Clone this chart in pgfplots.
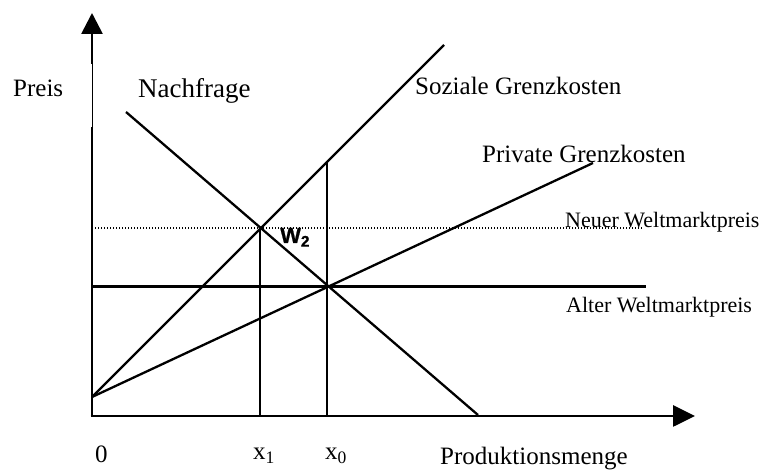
\documentclass[border=0pt]{standalone}
\usepackage{pgfplots}
\pgfplotsset{compat=1.18}
\usepackage{fontspec}
\setmainfont{Liberation Serif}
\newfontfamily\sansb{Liberation Sans}[BoldFeatures={FakeBold=0.8}]
\usetikzlibrary{arrows.meta}
\begin{document}
\begin{tikzpicture}
\begin{axis}[name=ax, x=1pt, y=1pt, xmin=-92, xmax=673, ymin=-54, ymax=416,
  hide axis, clip=false]
% axes
\addplot[line width=2.7pt] coordinates {(0,0) (0,289)};
\addplot[line width=1pt] coordinates {(0,289) (0,354)};
\addplot[line width=2.7pt, -{Triangle[length=21pt,width=21pt]}] coordinates {(0,352) (0,403)};
\addplot[line width=2.7pt, -{Triangle[length=22pt,width=21pt]}] coordinates {(-1.3,0) (603,0)};
% demand
\addplot[line width=2.3pt] coordinates {(34,304) (386,1)};
% social marginal cost
\addplot[line width=2.3pt] coordinates {(0,19) (352,371)};
% private marginal cost
\addplot[line width=2.3pt] coordinates {(0,19) (501,253)};
% new world price (dotted)
\addplot[line width=1.3pt, dash pattern=on 1pt off 2pt] coordinates {(0,188) (550,188)};
% old world price
\addplot[line width=2.3pt] coordinates {(0,129.5) (554,129.5)};
% x1 and x0
\addplot[line width=2.3pt] coordinates {(168,0) (168,188)};
\addplot[line width=2.3pt] coordinates {(235,0) (235,254)};
% labels
\node[anchor=base west, inner sep=0pt, font=\fontsize{25}{30}\selectfont] at (axis cs:-79,319) {Preis};
\node[anchor=base west, inner sep=0pt, font=\fontsize{27}{32}\selectfont] at (axis cs:46,318) {Nachfrage};
\node[anchor=base west, inner sep=0pt, font=\fontsize{25}{30}\selectfont] at (axis cs:323,321) {Soziale Grenzkosten};
\node[anchor=base west, inner sep=0pt, font=\fontsize{25}{30}\selectfont] at (axis cs:390,253) {Private Grenzkosten};
\node[anchor=base west, inner sep=0pt, font=\fontsize{22}{26}\selectfont] at (axis cs:473,188) {Neuer Weltmarktpreis};
\node[anchor=base west, inner sep=0pt, font=\fontsize{22}{26}\selectfont] at (axis cs:474,103) {Alter Weltmarktpreis};
\node[anchor=base west, inner sep=0pt, font=\fontsize{25}{30}\selectfont] at (axis cs:348,-49) {Produktionsmenge};
\node[anchor=base west, inner sep=0pt, font=\fontsize{25}{30}\selectfont] at (axis cs:3,-47) {0};
\node[anchor=base west, inner sep=0pt, font=\fontsize{25}{30}\selectfont] at (axis cs:161,-44) {x\textsubscript{1}};
\node[anchor=base west, inner sep=0pt, font=\fontsize{25}{30}\selectfont] at (axis cs:233,-44) {x\textsubscript{0}};
\node[anchor=base west, inner sep=0pt, font=\sansb\bfseries\fontsize{22}{26}\selectfont] at (axis cs:188,173) {W\textsubscript{2}};
\end{axis}
\pgfresetboundingbox
\path (ax.south west) rectangle (ax.north east);
\end{tikzpicture}
\end{document}
